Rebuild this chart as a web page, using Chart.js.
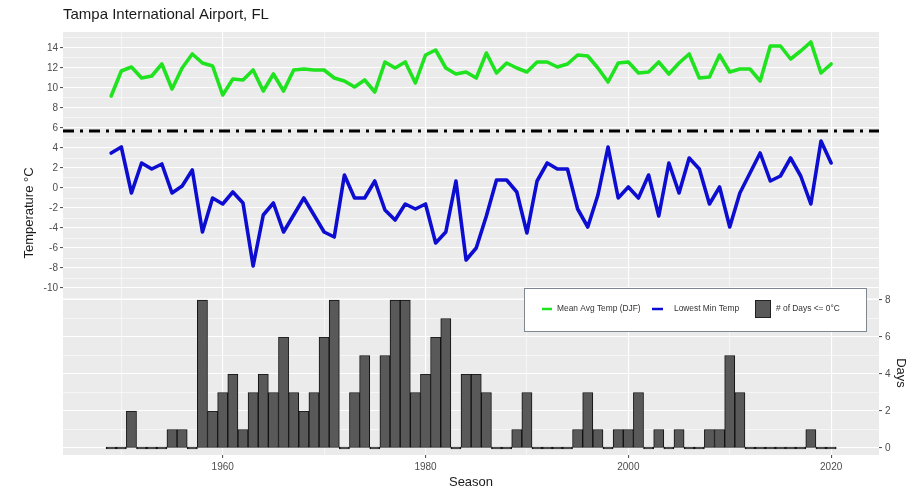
<!DOCTYPE html>
<html><head><meta charset="utf-8">
<script src="https://cdn.jsdelivr.net/npm/chart.js@4"></script>
<style>html,body{margin:0;padding:0;background:#fff}#wrap{width:922px;height:492px;position:relative}</style>
</head><body><div id="wrap"><canvas id="c"></canvas></div>
<script>
// ---------------- data ----------------
const seasons = [
  1949,1950,1951,1952,1953,1954,1955,1956,1957,1958,
  1959,1960,1961,1962,1963,1964,1965,1966,1967,1968,
  1969,1970,1971,1972,1973,1974,1975,1976,1977,1978,
  1979,1980,1981,1982,1983,1984,1985,1986,1987,1988,
  1989,1990,1991,1992,1993,1994,1995,1996,1997,1998,
  1999,2000,2001,2002,2003,2004,2005,2006,2007,2008,
  2009,2010,2011,2012,2013,2014,2015,2016,2017,2018,
  2019,2020];
const meanAvgTemp = [
  9.2,11.7,12.1,11.0,11.2,12.4,9.9,12.0,13.4,12.5,
  12.2,9.3,10.9,10.8,11.8,9.7,11.4,9.7,11.8,11.9,
  11.8,11.8,11.0,10.7,10.1,10.8,9.6,12.6,12.0,12.6,
  10.5,13.3,13.8,12.0,11.4,11.6,11.0,13.5,11.5,12.5,
  12.0,11.6,12.6,12.6,12.1,12.4,13.3,13.2,12.0,10.6,
  12.5,12.6,11.5,11.6,12.6,11.4,12.5,13.4,11.0,11.1,
  13.3,11.6,11.9,11.9,10.7,14.2,14.2,12.9,13.7,14.6,
  11.5,12.4];
const lowestMinTemp = [
  3.5,4.1,-0.5,2.5,1.9,2.4,-0.5,0.2,1.8,-4.4,
  -1.0,-1.6,-0.4,-1.5,-7.8,-2.7,-1.5,-4.4,-2.7,-1.0,
  -2.7,-4.4,-4.9,1.3,-1.0,-1.0,0.7,-2.2,-3.2,-1.6,
  -2.1,-1.6,-5.5,-4.4,0.7,-7.2,-6.0,-2.8,0.8,0.8,
  -0.4,-4.5,0.7,2.5,1.9,1.9,-2.1,-3.9,-0.7,4.1,
  -1.0,0.1,-1.0,1.3,-2.8,2.5,-0.5,3.0,1.9,-1.6,
  0.1,-3.9,-0.5,1.5,3.5,0.7,1.2,3.0,1.2,-1.6,
  4.7,2.5];
const daysBelowZero = [
  0,0,2,0,0,0,1,1,0,8,
  2,3,4,1,3,4,3,6,3,2,
  3,6,8,0,3,5,0,5,8,8,
  3,4,6,7,0,4,4,3,0,0,
  1,3,0,0,0,0,1,3,1,0,
  1,1,3,0,1,0,1,0,0,1,
  1,5,3,0,0,0,0,0,0,1,
  0,0];
const seriesNames = ['Mean Avg Temp (DJF)', 'Lowest Min Temp', '# of Days <= 0°C'];
const thresholdTemp = 5.7;
const xGridYears = [1950,1960,1970,1980,1990,2000,2010,2020];
const xLabelYears = [1960,1980,2000,2020];
const tempGrid = [-11,-10,-9,-8,-7,-6,-5,-4,-3,-2,-1,0,1,2,3,4,5,6,7,8,9,10,11,12,13,14,15];
const tempLabels = [-10,-8,-6,-4,-2,0,2,4,6,8,10,12,14];
const dayGrid = [0,1,2,3,4,5,6,7,8];
const dayLabels = [0,2,4,6,8];

// ---------------- chart ----------------
const FONT = "'Liberation Sans', Arial, Helvetica, sans-serif";
Chart.defaults.font.family = FONT;
const TICK_COLOR = '#4D4D4D';

const panelBg = {
  id: 'panelBg',
  beforeDraw(chart) {
    const {ctx, chartArea: a} = chart;
    ctx.save();
    ctx.fillStyle = '#EBEBEB';
    ctx.fillRect(a.left, a.top, a.right - a.left, a.bottom - a.top);
    ctx.restore();
  }
};

const threshold = {
  id: 'threshold',
  afterDatasetsDraw(chart) {
    const {ctx, chartArea: a, scales} = chart;
    const y = scales.y.getPixelForValue(thresholdTemp);
    ctx.save();
    ctx.strokeStyle = '#000';
    ctx.lineWidth = 3;
    ctx.setLineDash([11, 6, 3, 6]);
    ctx.beginPath();
    ctx.moveTo(a.left, y);
    ctx.lineTo(a.right, y);
    ctx.stroke();
    ctx.restore();
  }
};

const annotations = {
  id: 'annotations',
  afterDraw(chart) {
    const {ctx, chartArea: a} = chart;
    const ds = chart.data.datasets;
    ctx.save();
    ctx.fillStyle = '#1A1A1A';
    ctx.font = '15px ' + FONT;
    ctx.textAlign = 'left';
    ctx.textBaseline = 'middle';
    ctx.fillText('Tampa International Airport, FL', a.left, 15);
    ctx.font = '13px ' + FONT;
    ctx.save();
    ctx.translate(29, 213);
    ctx.rotate(-Math.PI / 2);
    ctx.textAlign = 'center';
    ctx.fillText('Temperature °C', 0, 0);
    ctx.restore();
    ctx.save();
    ctx.translate(901, 373);
    ctx.rotate(Math.PI / 2);
    ctx.textAlign = 'center';
    ctx.fillText('Days', 0, 0);
    ctx.restore();
    // legend
    const bx = 524, by = 288, bw = 342, bh = 43, cy = 309;
    ctx.fillStyle = '#FFFFFF';
    ctx.fillRect(bx, by, bw, bh);
    ctx.strokeStyle = '#7F8790';
    ctx.lineWidth = 1;
    ctx.strokeRect(bx + 0.5, by + 0.5, bw, bh);
    ctx.font = '8.4px ' + FONT;
    ctx.textAlign = 'left';
    ctx.textBaseline = 'middle';
    ctx.lineWidth = 2.5;
    ctx.strokeStyle = ds[0].borderColor;
    ctx.beginPath(); ctx.moveTo(542, cy); ctx.lineTo(552, cy); ctx.stroke();
    ctx.strokeStyle = ds[1].borderColor;
    ctx.beginPath(); ctx.moveTo(652, cy); ctx.lineTo(663, cy); ctx.stroke();
    ctx.fillStyle = ds[2].backgroundColor;
    ctx.fillRect(755, 300, 15, 17);
    ctx.strokeStyle = '#222';
    ctx.lineWidth = 1;
    ctx.strokeRect(755.5, 300.5, 15, 17);
    ctx.fillStyle = '#333';
    ctx.fillText(ds[0].label, 557, cy);
    ctx.fillText(ds[1].label, 674, cy);
    ctx.fillText(ds[2].label, 776, cy);
    ctx.restore();
  }
};

function gridWidth(ctx, majorTest) {
  if (!ctx.tick) return 0.55;
  return majorTest(ctx.tick.value) ? 1.1 : 0.55;
}

new Chart(document.getElementById('c'), {
  type: 'bar',
  data: {
    datasets: [
      {
        type: 'line', label: seriesNames[0], yAxisID: 'y', order: 1,
        data: seasons.map((s, i) => ({x: s, y: meanAvgTemp[i]})),
        borderColor: '#1EE31E', backgroundColor: '#1EE31E',
        borderWidth: 3.6, pointRadius: 0, tension: 0,
        borderJoinStyle: 'round', borderCapStyle: 'round'
      },
      {
        type: 'line', label: seriesNames[1], yAxisID: 'y', order: 2,
        data: seasons.map((s, i) => ({x: s, y: lowestMinTemp[i]})),
        borderColor: '#0D0DD2', backgroundColor: '#0D0DD2',
        borderWidth: 3.6, pointRadius: 0, tension: 0,
        borderJoinStyle: 'round', borderCapStyle: 'round'
      },
      {
        type: 'bar', label: seriesNames[2], yAxisID: 'yD', order: 3,
        data: seasons.map((s, i) => ({x: s, y: daysBelowZero[i]})),
        backgroundColor: '#595959', borderColor: '#111',
        borderWidth: 1, borderSkipped: false,
        barPercentage: 1, categoryPercentage: 1, minBarLength: 2
      }
    ]
  },
  options: {
    responsive: true, maintainAspectRatio: false, animation: false,
    devicePixelRatio: 1,
    layout: {padding: {top: 32, left: 0, right: 0, bottom: 0}},
    plugins: {legend: {display: false}, tooltip: {enabled: false}, title: {display: false}},
    scales: {
      x: {
        type: 'linear', min: 1944.25, max: 2024.72, offset: false,
        afterBuildTicks: s => { s.ticks = xGridYears.map(v => ({value: v})); },
        ticks: {
          callback: v => xLabelYears.includes(v) ? String(v) : '',
          color: TICK_COLOR, font: {size: 10}, padding: 3, maxRotation: 0, autoSkip: false
        },
        grid: {
          offset: false,
          color: '#FFFFFF',
          lineWidth: c => gridWidth(c, v => v % 20 === 0),
          tickColor: c => (c.tick && xLabelYears.includes(c.tick.value)) ? '#555' : 'rgba(0,0,0,0)',
          tickLength: 3, drawTicks: true
        },
        border: {display: false},
        title: {display: true, text: 'Season', color: '#1A1A1A', font: {size: 13}, padding: {top: 0, bottom: 2}},
        afterFit: s => { s.height = 37; }
      },
      y: {
        position: 'left', min: -26.7, max: 15.6,
        afterBuildTicks: s => { s.ticks = tempGrid.map(v => ({value: v})); },
        ticks: {
          callback: v => tempLabels.includes(v) ? String(v) : '',
          color: TICK_COLOR, font: {size: 10}, padding: 2, autoSkip: false
        },
        grid: {
          color: '#FFFFFF',
          lineWidth: c => gridWidth(c, v => v % 2 === 0),
          tickColor: c => (c.tick && tempLabels.includes(c.tick.value)) ? '#555' : 'rgba(0,0,0,0)',
          tickLength: 3
        },
        border: {display: false},
        afterFit: s => { s.width = 63; }
      },
      yD: {
        position: 'right', min: -0.378, max: 22.49,
        afterBuildTicks: s => { s.ticks = dayGrid.map(v => ({value: v})); },
        ticks: {
          callback: v => dayLabels.includes(v) ? String(v) : '',
          color: TICK_COLOR, font: {size: 10}, padding: 3, autoSkip: false
        },
        grid: {
          color: '#FFFFFF',
          lineWidth: c => gridWidth(c, v => v % 2 === 0),
          tickColor: c => (c.tick && dayLabels.includes(c.tick.value)) ? '#555' : 'rgba(0,0,0,0)',
          tickLength: 3
        },
        border: {display: false},
        afterFit: s => { s.width = 43; }
      }
    }
  },
  plugins: [panelBg, threshold, annotations]
});
</script>
</body></html>
